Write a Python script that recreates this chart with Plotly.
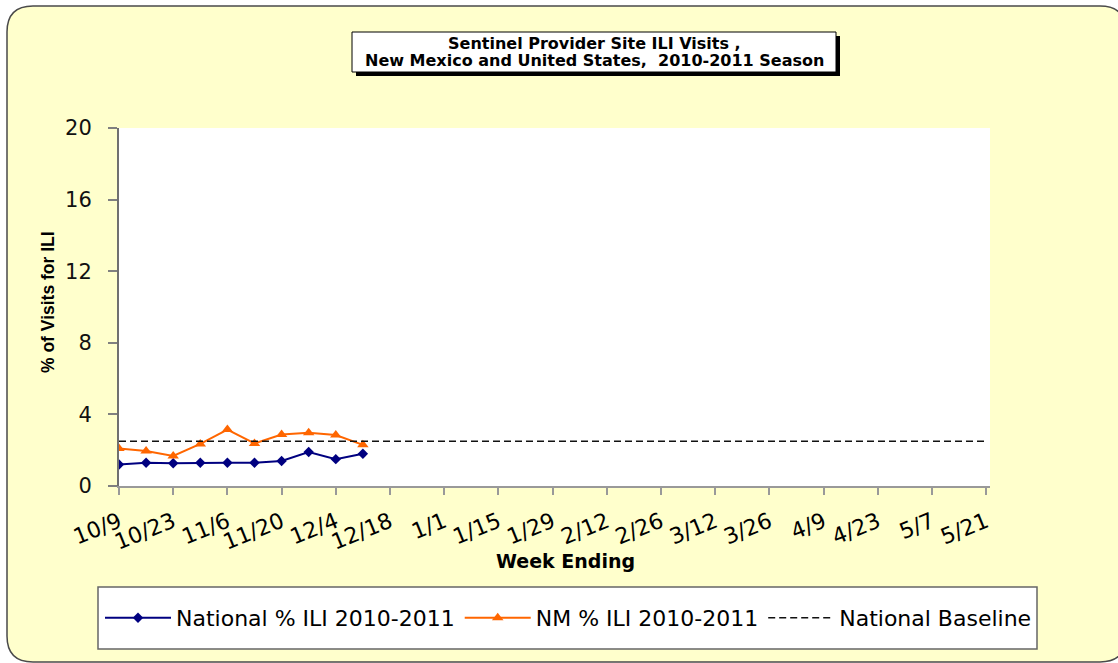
import plotly.graph_objects as go
import pandas as pd

# ---------------- data ----------------
weeks = ["2010-10-09", "2010-10-16", "2010-10-23", "2010-10-30", "2010-11-06",
         "2010-11-13", "2010-11-20", "2010-11-27", "2010-12-04", "2010-12-11"]
national = [1.2, 1.3, 1.27, 1.3, 1.3, 1.3, 1.4, 1.9, 1.5, 1.8]
nm = [2.1, 1.95, 1.68, 2.35, 3.15, 2.38, 2.88, 2.97, 2.85, 2.3]

baseline_weeks = pd.date_range("2010-10-09", "2011-05-21", freq="7D")
baseline = [2.5] * len(baseline_weeks)

tick_dates = pd.date_range("2010-10-09", "2011-05-21", freq="14D")
tick_labels = ["10/9", "10/23", "11/6", "11/20", "12/4", "12/18", "1/1", "1/15",
               "1/29", "2/12", "2/26", "3/12", "3/26", "4/9", "4/23", "5/7", "5/21"]
y_ticks = [0, 4, 8, 12, 16, 20]

series_names = ["National % ILI 2010-2011", "NM % ILI 2010-2011", "National Baseline"]
title_lines = ["Sentinel Provider Site ILI Visits ,",
               "New Mexico and United States,  2010-2011 Season"]

# ---------------- layout helpers ----------------
W, H = 1118, 663
ML, MR, MT, MB = 119, 128, 128, 177
PW = W - ML - MR
PH = H - MT - MB


def px(x):
    return (x - ML) / PW


def py(y):
    return (H - MB - y) / PH


def rounded_rect(x0, y0, x1, y1, r):
    X0, X1, Y0, Y1 = px(x0), px(x1), py(y0), py(y1)
    rx, ry = r / PW, r / PH
    return (f"M{X0 + rx},{Y0} L{X1 - rx},{Y0} Q{X1},{Y0} {X1},{Y0 - ry} "
            f"L{X1},{Y1 + ry} Q{X1},{Y1} {X1 - rx},{Y1} "
            f"L{X0 + rx},{Y1} Q{X0},{Y1} {X0},{Y1 + ry} "
            f"L{X0},{Y0 - ry} Q{X0},{Y0} {X0 + rx},{Y0} Z")


FONT = "DejaVu Sans"

fig = go.Figure()
fig.add_trace(go.Scatter(
    x=weeks, y=national, name=series_names[0], mode="lines+markers",
    line=dict(color="#000080", width=2),
    marker=dict(symbol="diamond", size=8, color="#000080")))
fig.add_trace(go.Scatter(
    x=weeks, y=nm, name=series_names[1], mode="lines+markers",
    line=dict(color="#FF6600", width=2),
    marker=dict(symbol="triangle-up", size=10, color="#FF6600")))
fig.add_trace(go.Scatter(
    x=baseline_weeks, y=baseline, name=series_names[2], mode="lines",
    line=dict(color="#111111", width=1.6, dash="7px,4px")))

shapes = [
    dict(type="path", xref="paper", yref="paper", layer="below",
         path=rounded_rect(7, 6, 1126, 662, 26),
         fillcolor="#FFFFCC", line=dict(color="#4a4a4a", width=1.5)),
    dict(type="rect", xref="paper", yref="paper", layer="below",
         x0=0, x1=1, y0=0, y1=1, fillcolor="white", line=dict(width=0)),
    # title box shadow and box
    dict(type="rect", xref="paper", yref="paper", layer="below",
         x0=px(356), x1=px(840), y0=py(76), y1=py(36),
         fillcolor="black", line=dict(width=0)),
    dict(type="rect", xref="paper", yref="paper", layer="below",
         x0=px(352), x1=px(836), y0=py(72), y1=py(32),
         fillcolor="white", line=dict(color="black", width=1)),
    # legend box
    dict(type="rect", xref="paper", yref="paper", layer="below",
         x0=px(98), x1=px(1037), y0=py(649), y1=py(587),
         fillcolor="white", line=dict(color="#666666", width=1.5)),
]

annotations = [
    dict(text=f"<b>{title_lines[0]}</b>", x=px(594), y=py(44), xref="paper", yref="paper",
         showarrow=False, xanchor="center", yanchor="middle",
         font=dict(family=FONT, size=16, color="black")),
    dict(text=f"<b>{title_lines[1]}</b>", x=px(594), y=py(60), xref="paper", yref="paper",
         showarrow=False, xanchor="center", yanchor="middle",
         font=dict(family=FONT, size=16, color="black")),
    dict(text="<b>Week Ending</b>", x=px(565), y=py(561), xref="paper", yref="paper",
         showarrow=False, xanchor="center", yanchor="middle",
         font=dict(family=FONT, size=19, color="black")),
    dict(text="<b>% of Visits for ILI</b>", x=px(48), y=py(302), xref="paper", yref="paper",
         showarrow=False, xanchor="center", yanchor="middle", textangle=-90,
         font=dict(family="Liberation Sans, Arial", size=17.5, color="black")),
]

fig.update_layout(
    width=W, height=H,
    margin=dict(l=ML, r=MR, t=MT, b=MB),
    paper_bgcolor="white",
    plot_bgcolor="rgba(0,0,0,0)",
    shapes=shapes,
    annotations=annotations,
    showlegend=True,
    legend=dict(orientation="h", x=px(100), y=py(618), xanchor="left", yanchor="middle",
                bgcolor="rgba(0,0,0,0)", borderwidth=0, itemwidth=66,
                font=dict(family=FONT, size=22, color="black")),
    xaxis=dict(type="date", range=["2010-10-09", "2011-05-22"],
               tickvals=tick_dates, ticktext=tick_labels, tickangle=-22,
               ticks="outside", ticklen=7, tickcolor="#999999", tickwidth=1.5,
               showline=True, linecolor="#999999", linewidth=1.5,
               showgrid=False, zeroline=False, ticklabelstandoff=6,
               tickfont=dict(family=FONT, size=22, color="black")),
    yaxis=dict(range=[0, 20], tickvals=y_ticks,
               ticks="outside", ticklen=9, tickcolor="#808080", tickwidth=1.5,
               showline=True, linecolor="#707070", linewidth=2,
               showgrid=False, zeroline=False, ticklabelstandoff=12,
               tickfont=dict(family=FONT, size=21, color="#111111")),
)

fig.write_html("out.html",
               config={"displayModeBar": False},
               post_script="document.body.style.margin='0px';")
